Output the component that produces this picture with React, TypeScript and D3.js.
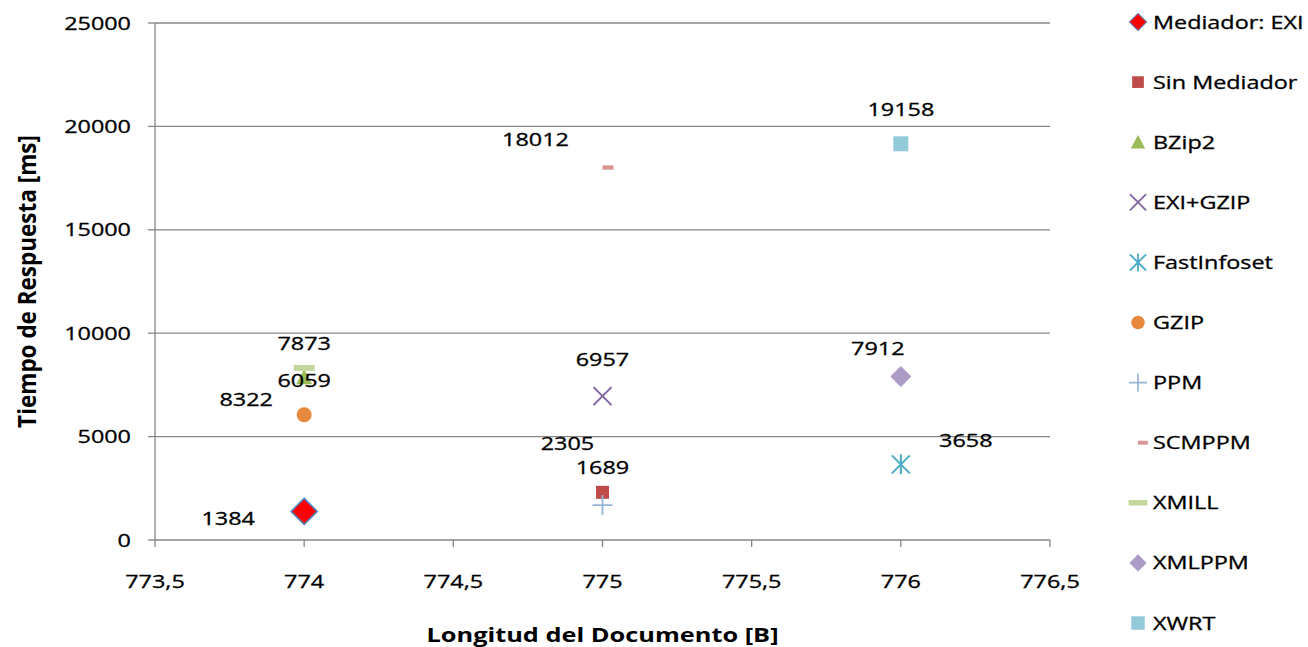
import * as d3 from "d3";

// series, one point each
const seriesNames = [
  "Mediador: EXI",
  "Sin Mediador",
  "BZip2",
  "EXI+GZIP",
  "FastInfoset",
  "GZIP",
  "PPM",
  "SCMPPM",
  "XMILL",
  "XMLPPM",
  "XWRT",
];
const docLengths = [774, 775, 774, 775, 776, 774, 775, 775, 774, 776, 776];
const responseTimes = [1384, 2305, 7873, 6957, 3658, 6059, 1689, 18012, 8322, 7912, 19158];

const xDomain = [773.5, 776.5];
const yDomain = [0, 25000];

// where Excel dropped each data label, relative to its marker
const labelOffsets = [
  [-76, 7],
  [-35, -49],
  [0, -34],
  [0, -37],
  [65, -24],
  [0, -34],
  [0, -38],
  [-67, -28],
  [-58, 32],
  [-23, -28],
  [0, -34],
];

type Shape =
  | "diamondRed"
  | "square"
  | "triangle"
  | "cross"
  | "star"
  | "circle"
  | "plus"
  | "shortDash"
  | "dash"
  | "diamond"
  | "bigSquare";

const shapes: Shape[] = [
  "diamondRed",
  "square",
  "triangle",
  "cross",
  "star",
  "circle",
  "plus",
  "shortDash",
  "dash",
  "diamond",
  "bigSquare",
];
const colors = [
  "#FF0000",
  "#BE4B48",
  "#9BBB59",
  "#8064A2",
  "#4BACC6",
  "#E8873E",
  "#95B3D7",
  "#D99694",
  "#C3D69B",
  "#AC9BC6",
  "#93CAD9",
];

const W = 1308;
const H = 647;
const margin = { top: 23, right: 258, bottom: 107, left: 155 };
const FONT = "'Open Sans', 'Liberation Sans', sans-serif";
const SX = 1.3;
const GRID = "#868686";

const fmtX = d3.formatLocale({ decimal: ",", thousands: ".", grouping: [3], currency: ["", ""] }).format("~f");

function Marker({ shape, color, x, y, k }: { shape: Shape; color: string; x: number; y: number; k: number }) {
  const t = `translate(${x},${y}) scale(${k})`;
  switch (shape) {
    case "diamondRed":
      return <path transform={t} d="M0,-13L13,0L0,13L-13,0Z" fill={color} stroke="#4F81BD" strokeWidth={1.6} />;
    case "square":
      return <rect transform={t} x={-6.5} y={-6.5} width={13} height={13} fill={color} />;
    case "triangle":
      return <path transform={t} d="M0,-8L8,7L-8,7Z" fill={color} />;
    case "cross":
      return <path transform={t} d="M-9,-9L9,9M-9,9L9,-9" stroke={color} strokeWidth={2} fill="none" />;
    case "star":
      return <path transform={t} d="M0,-10L0,10M-9,-9L9,9M-9,9L9,-9" stroke={color} strokeWidth={2} fill="none" />;
    case "circle":
      return <circle transform={t} r={7.5} fill={color} />;
    case "plus":
      return <path transform={t} d="M0,-10L0,10M-10,0L10,0" stroke={color} strokeWidth={1.8} fill="none" />;
    case "shortDash":
      return <rect transform={t} x={0} y={-2.2} width={11} height={4.4} fill={color} />;
    case "dash":
      return <rect transform={t} x={-10.5} y={-3} width={21} height={6} fill={color} />;
    case "diamond":
      return <path transform={t} d="M0,-10.5L10.5,0L0,10.5L-10.5,0Z" fill={color} />;
    case "bigSquare":
      return <rect transform={t} x={-7.5} y={-7.5} width={15} height={15} fill={color} />;
  }
  return null;
}

function Txt({
  x,
  y,
  anchor = "start",
  size = 18,
  bold = false,
  sx = SX,
  rotate = false,
  children,
}: {
  x: number;
  y: number;
  anchor?: "start" | "middle" | "end";
  size?: number;
  bold?: boolean;
  sx?: number;
  rotate?: boolean;
  children: any;
}) {
  return (
    <text
      transform={`translate(${x},${y}) scale(${sx},1)${rotate ? " rotate(-90)" : ""}`}
      textAnchor={anchor}
      fontFamily={FONT}
      fontSize={size}
      fontWeight={bold ? 700 : 400}
      fill="#000"
      stroke={bold ? "none" : "#000"}
      strokeWidth={bold ? 0 : 0.3}
    >
      {children}
    </text>
  );
}

export default function App() {
  const x = d3.scaleLinear().domain(xDomain).range([margin.left, W - margin.right]);
  const y = d3.scaleLinear().domain(yDomain).range([H - margin.bottom, margin.top]);
  const xTicks = x.ticks(6);
  const yTicks = y.ticks(5);
  const x0 = x.range()[0];
  const x1 = x.range()[1];
  const yBase = y(0);

  const legendY = d3.scalePoint<string>().domain(seriesNames).range([22, 623]);

  return (
    <svg
      width={W}
      height={H}
      style={{ position: "fixed", left: 0, top: 0, background: "#fff" }}
    >
      {/* grid */}
      {yTicks
        .filter((t) => t !== 0)
        .map((t) => (
          <line key={`g${t}`} x1={x0} x2={x1} y1={y(t)} y2={y(t)} stroke={GRID} strokeWidth={1.3} />
        ))}

      {/* y axis */}
      <line x1={x0} x2={x0} y1={y(yDomain[1])} y2={yBase} stroke={GRID} strokeWidth={1.3} />
      {yTicks.map((t) => (
        <g key={`y${t}`}>
          <line x1={x0 - 7} x2={x0} y1={y(t)} y2={y(t)} stroke={GRID} strokeWidth={1.3} />
          <Txt x={131} y={y(t) + 6.5} anchor="end">
            {String(t)}
          </Txt>
        </g>
      ))}

      {/* x axis */}
      <line x1={x0} x2={x1} y1={yBase} y2={yBase} stroke={GRID} strokeWidth={1.3} />
      {xTicks.map((t) => (
        <g key={`x${t}`}>
          <line x1={x(t)} x2={x(t)} y1={yBase} y2={yBase + 7} stroke={GRID} strokeWidth={1.3} />
          <Txt x={x(t)} y={588} anchor="middle">
            {fmtX(t)}
          </Txt>
        </g>
      ))}

      <Txt x={(x0 + x1) / 2} y={642} anchor="middle" bold size={19.5}>
        Longitud del Documento [B]
      </Txt>
      <Txt x={36} y={(y(yDomain[1]) + yBase) / 2} anchor="middle" bold size={22.5} sx={1.08} rotate>
        Tiempo de Respuesta [ms]
      </Txt>

      {/* points */}
      {seriesNames.map((name, i) => (
        <Marker
          key={`m${name}`}
          shape={shapes[i]}
          color={colors[i]}
          x={x(docLengths[i])}
          y={y(responseTimes[i])}
          k={1}
        />
      ))}

      {/* data labels */}
      {seriesNames.map((name, i) => (
        <Txt
          key={`l${name}`}
          x={x(docLengths[i]) + labelOffsets[i][0]}
          y={y(responseTimes[i]) + labelOffsets[i][1] + 6.5}
          anchor="middle"
        >
          {String(responseTimes[i])}
        </Txt>
      ))}

      {/* legend */}
      {seriesNames.map((name, i) => (
        <g key={`lg${name}`}>
          <Marker
            shape={shapes[i]}
            color={colors[i]}
            x={1138}
            y={legendY(name) ?? 0}
            k={shapes[i] === "diamondRed" ? 0.66 : shapes[i] === "diamond" ? 0.82 : 0.9}
          />
          <Txt x={1153} y={(legendY(name) ?? 0) + 6.5}>
            {name}
          </Txt>
        </g>
      ))}
    </svg>
  );
}
